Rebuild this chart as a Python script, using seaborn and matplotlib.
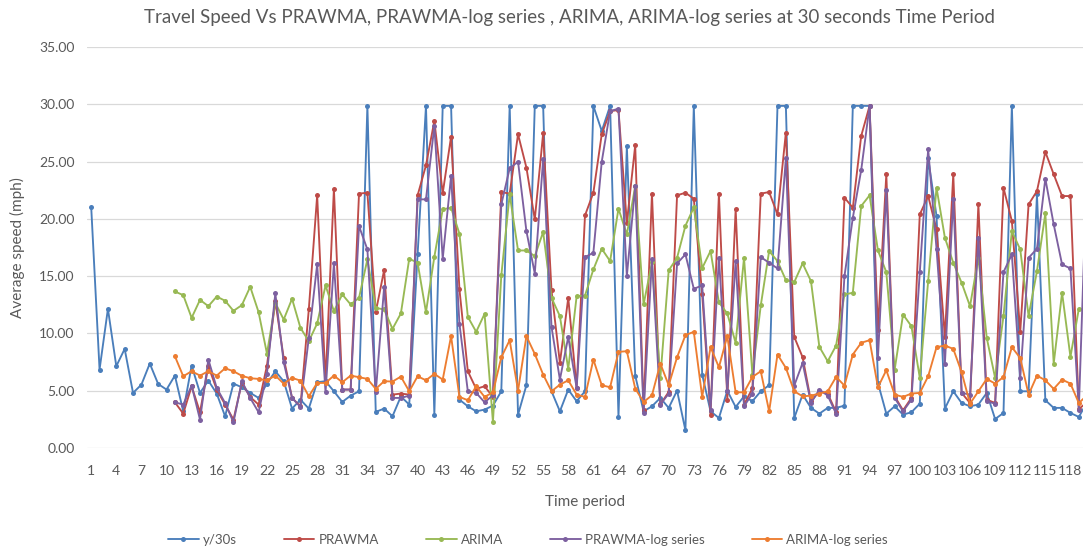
import numpy as np
import pandas as pd
import matplotlib
matplotlib.use("Agg")
import matplotlib.pyplot as plt
import seaborn as sns

# ---------------- data ----------------
periods = list(range(1, 121))

y30s = [21.06, 6.85, 12.15, 7.14, 8.65, 4.81, 5.53, 7.37, 5.59, 5.10,
        6.32, 3.20, 7.19, 4.81, 5.88, 4.75, 2.77, 5.62, 5.30, 4.81,
        4.37, 5.62, 6.70, 5.83, 3.44, 4.22, 3.44, 5.74, 5.83, 4.95,
        4.02, 4.57, 4.95, 29.86, 3.15, 3.44, 2.77, 4.50, 3.79, 16.90,
        29.86, 2.91, 29.86, 29.86, 4.22, 3.64, 3.20, 3.35, 3.70, 4.95,
        29.86, 2.91, 5.48, 29.86, 29.86, 4.95, 3.20, 5.10, 4.08, 4.95,
        29.86, 27.67, 29.86, 2.71, 26.36, 6.32, 3.20, 3.64, 4.37, 3.50,
        5.01, 1.54, 29.86, 6.41, 3.20, 2.62, 5.00, 3.58, 4.51, 4.08,
        4.95, 5.48, 29.86, 29.86, 2.62, 4.66, 3.50, 3.00, 3.50, 3.50,
        3.70, 29.86, 29.86, 29.86, 5.68, 3.00, 3.64, 2.91, 3.12, 3.87,
        25.30, 20.24, 3.44, 4.95, 3.93, 3.64, 3.79, 4.81, 2.53, 3.06,
        29.86, 4.95, 4.95, 22.14, 4.17, 3.50, 3.50, 3.06, 2.71, 4.00]

# forecasts start at period 11
prawma = [3.99, 3.00, 5.39, 3.12, 7.14, 5.10, 3.79, 2.48, 5.70, 4.45,
          3.79, 7.19, 12.82, 7.86, 4.37, 3.64, 12.09, 22.05, 5.74, 22.63,
          5.10, 5.10, 22.20, 22.28, 11.86, 15.53, 4.66, 4.75, 4.66, 22.05,
          24.67, 28.55, 22.23, 27.18, 13.84, 6.70, 5.16, 5.39, 4.46, 22.34,
          22.20, 27.38, 24.47, 19.95, 27.47, 13.75, 7.43, 13.11, 5.24, 20.30,
          22.28, 27.38, 29.40, 29.50, 19.66, 26.42, 3.30, 22.20, 3.80, 4.90,
          22.05, 22.28, 21.76, 13.40, 2.90, 22.20, 4.22, 20.83, 3.79, 5.20,
          22.20, 22.34, 20.39, 27.53, 9.70, 7.92, 4.08, 4.95, 4.75, 3.12,
          21.85, 20.97, 27.24, 29.86, 10.34, 23.89, 4.51, 3.29, 4.37, 20.39,
          21.99, 19.08, 9.70, 23.89, 4.81, 3.93, 21.26, 4.22, 3.93, 22.72,
          19.81, 10.14, 21.26, 22.43, 25.84, 23.89, 21.99, 21.99, 3.41, 4.00]

arima = [13.66, 13.34, 11.36, 12.93, 12.38, 13.22, 12.85, 11.97, 12.47, 14.07,
         11.86, 8.24, 12.67, 11.21, 13.02, 10.49, 9.32, 10.87, 14.19, 11.94,
         13.40, 12.53, 13.11, 16.46, 12.23, 12.09, 10.40, 11.74, 16.52, 16.17,
         11.86, 16.69, 20.83, 20.97, 18.70, 11.45, 10.14, 11.71, 2.27, 15.06,
         22.14, 17.24, 17.24, 16.75, 18.85, 13.11, 11.51, 6.90, 13.25, 13.31,
         15.58, 17.39, 16.31, 20.89, 18.64, 22.87, 12.53, 16.20, 6.10, 15.50,
         16.60, 19.40, 21.00, 15.70, 17.20, 12.70, 11.74, 9.18, 16.60, 6.41,
         12.44, 17.19, 16.31, 14.65, 14.48, 16.11, 14.56, 8.83, 7.57, 8.94,
         13.40, 13.55, 21.12, 22.05, 17.24, 15.35, 6.85, 11.65, 10.63, 6.12,
         14.56, 22.72, 18.35, 16.17, 14.42, 12.38, 16.60, 9.61, 6.12, 11.51,
         18.93, 17.33, 11.51, 15.44, 20.48, 7.37, 13.55, 7.95, 12.15, 12.00]

prawma_log = [3.99, 3.79, 5.45, 2.48, 7.72, 5.24, 3.93, 2.24, 5.83, 4.37,
              3.12, 6.50, 13.49, 7.49, 4.37, 3.58, 9.61, 16.02, 4.86, 16.11,
              5.10, 5.10, 19.37, 17.33, 4.86, 14.04, 4.37, 4.37, 4.57, 21.70,
              21.70, 28.11, 16.52, 23.74, 10.84, 4.95, 4.81, 3.99, 4.60, 21.26,
              24.41, 24.99, 18.93, 15.23, 25.20, 10.57, 5.97, 9.70, 5.24, 16.66,
              17.04, 24.99, 29.40, 29.62, 15.00, 22.87, 3.06, 16.46, 3.79, 4.75,
              16.11, 16.90, 13.89, 14.19, 3.35, 16.60, 5.00, 16.31, 3.64, 4.75,
              16.66, 16.17, 15.67, 25.28, 5.45, 7.43, 3.93, 5.10, 4.57, 3.00,
              15.00, 20.10, 24.26, 29.86, 7.86, 22.52, 4.37, 3.20, 4.22, 15.35,
              26.07, 17.39, 7.37, 21.76, 4.81, 4.66, 18.35, 4.08, 3.87, 15.35,
              16.90, 6.12, 16.60, 17.39, 23.51, 19.52, 16.02, 15.67, 3.35, 25.00]

arima_log = [8.01, 6.26, 6.70, 6.32, 6.70, 6.32, 6.96, 6.70, 6.30, 6.09,
             6.03, 5.91, 6.32, 5.62, 6.12, 5.88, 4.51, 5.68, 5.68, 6.32,
             5.74, 6.32, 6.18, 6.03, 5.16, 5.83, 5.80, 6.23, 4.95, 6.26,
             5.91, 6.47, 5.97, 9.76, 4.46, 4.17, 5.39, 4.46, 4.86, 7.92,
             9.41, 5.01, 9.76, 8.21, 6.41, 4.95, 5.53, 5.91, 4.66, 4.46,
             7.72, 5.48, 5.30, 8.39, 8.45, 5.19, 4.02, 4.60, 7.37, 5.48,
             7.92, 9.85, 10.14, 4.46, 8.80, 7.05, 9.76, 4.86, 4.86, 6.20,
             6.70, 3.20, 8.16, 6.99, 4.95, 4.51, 4.57, 4.75, 4.95, 6.20,
             5.45, 8.16, 9.18, 9.41, 5.30, 6.79, 4.66, 4.46, 4.75, 4.81,
             6.26, 8.80, 8.94, 8.65, 6.61, 3.87, 4.95, 6.03, 5.62, 6.20,
             8.80, 7.86, 4.66, 6.32, 5.91, 5.16, 5.97, 5.62, 3.93, 4.60]

series_names = ["y/30s", "PRAWMA", "ARIMA", "PRAWMA-log series", "ARIMA-log series"]
series_colors = ["#4A7EBB", "#BE4B48", "#98B954", "#7D60A0", "#ED7D31"]
xtick_labels = [str(v) for v in range(1, 119, 3)]

title = "Travel Speed Vs PRAWMA, PRAWMA-log series , ARIMA, ARIMA-log series at 30 seconds Time Period"

# ---------------- long-form table ----------------
start = 11
frames = [pd.DataFrame({"period": periods, "speed": y30s, "series": series_names[0]})]
for name, vals in zip(series_names[1:], [prawma, arima, prawma_log, arima_log]):
    frames.append(pd.DataFrame({"period": periods[start - 1:start - 1 + len(vals)],
                                "speed": vals, "series": name}))
df = pd.concat(frames, ignore_index=True)

# ---------------- plot ----------------
sns.set_style("white")
plt.rcParams["font.family"] = ["Lato", "DejaVu Sans"]

W, H = 1083, 551
fig = plt.figure(figsize=(W / 100, H / 100), dpi=100)
ax = fig.add_axes([87 / W, 1 - 448 / H, (W - 87) / W, 401 / H])

palette = dict(zip(series_names, series_colors))
sns.lineplot(data=df, x="period", y="speed", hue="series", hue_order=series_names,
             palette=palette, marker="o", markersize=3.6, markeredgewidth=0,
             linewidth=1.35, sort=True, estimator=None, legend=False, ax=ax)

ax.set_xlim(0.5, 119.5)
ax.set_ylim(0, 35)
ax.set_yticks(np.arange(0, 36, 5))
ax.set_yticklabels([f"{v:.2f}" for v in np.arange(0, 36, 5)])
ax.set_xticks(list(range(1, 119, 3)))
ax.set_xticklabels(xtick_labels)
ax.yaxis.grid(True, color="#D9D9D9", linewidth=0.9)
ax.xaxis.grid(False)
for s in ax.spines.values():
    s.set_visible(False)
ax.tick_params(axis="both", length=0, colors="#595959", labelsize=10)
ax.tick_params(axis="x", pad=12)
ax.tick_params(axis="y", pad=9)

ax.set_xlabel("Time period", fontsize=11, color="#595959", labelpad=13)
ax.set_ylabel("Average speed (mph)", fontsize=11, color="#595959", labelpad=10)

fig.text(570 / W, 1 - 17 / H, title, ha="center", va="center",
         fontsize=13.5, color="#595959")

handles = [plt.Line2D([], [], color=c, marker="o", markersize=3.6, markeredgewidth=0,
                      linewidth=1.35) for c in series_colors]
fig.legend(handles, series_names, loc="center", bbox_to_anchor=(528 / W, 1 - 540 / H),
           ncol=5, frameon=False, fontsize=9.5, handlelength=2.3, handletextpad=0.3,
           columnspacing=3.6, labelcolor="#595959")

fig.savefig("out.png", dpi=100)
